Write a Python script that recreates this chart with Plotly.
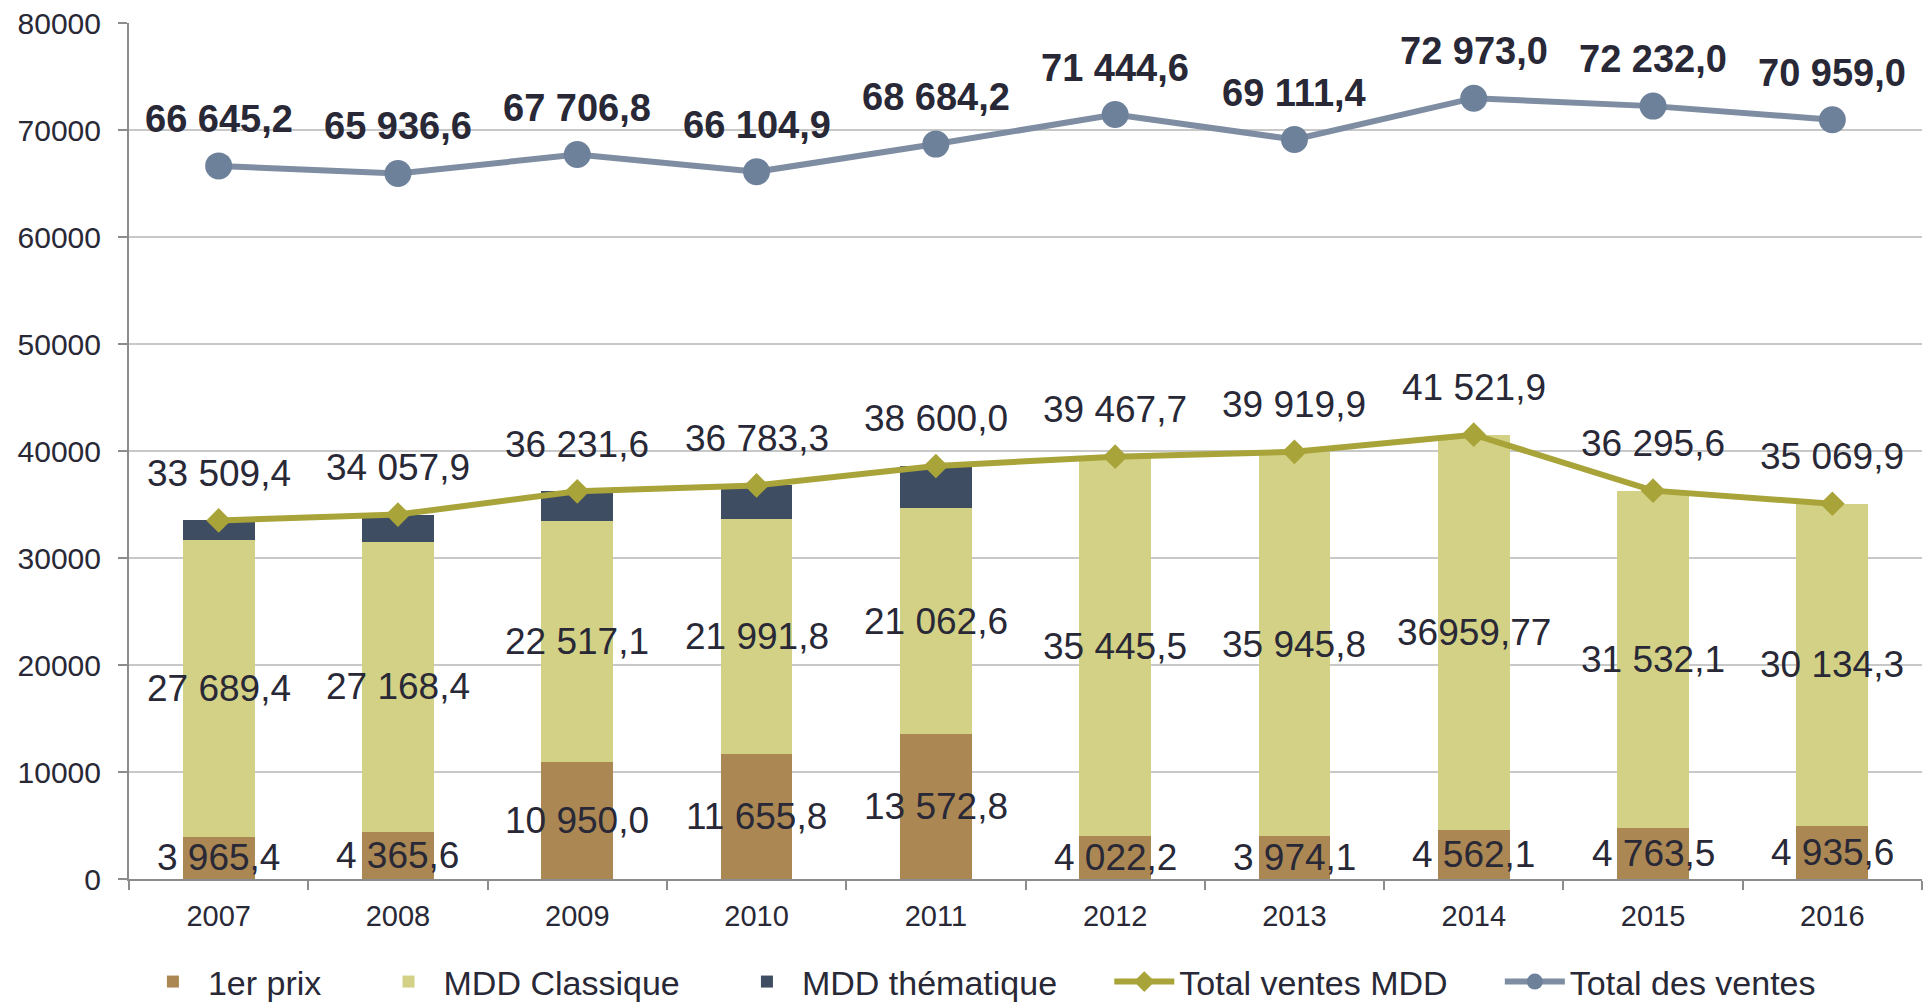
import plotly.graph_objects as go

years = ["2007", "2008", "2009", "2010", "2011", "2012", "2013", "2014", "2015", "2016"]
premier_prix = [3965.4, 4365.6, 10950.0, 11655.8, 13572.8, 4022.2, 3974.1, 4562.1, 4763.5, 4935.6]
mdd_classique = [27689.4, 27168.4, 22517.1, 21991.8, 21062.6, 35445.5, 35945.8, 36959.77, 31532.1, 30134.3]
mdd_thematique = [1854.6, 2523.9, 2764.5, 3135.7, 3964.6, 0, 0, 0, 0, 0]
total_mdd = [33509.4, 34057.9, 36231.6, 36783.3, 38600.0, 39467.7, 39919.9, 41521.9, 36295.6, 35069.9]
total_ventes = [66645.2, 65936.6, 67706.8, 66104.9, 68684.2, 71444.6, 69111.4, 72973.0, 72232.0, 70959.0]
classique_label_override = {7: "36959,77"}

xpos = list(range(len(years)))


def fr(v):
    s = f"{v:,.1f}"
    return s.replace(",", " ").replace(".", ",")


PAD = "\u00a0" * 5  # spacing between legend entries

TXT = "#282836"
FONT = "Liberation Sans, Arial, sans-serif"

C_PRIX = "#AB8754"
C_CLASS = "#D3D185"
C_THEM = "#3F4D63"
C_MDD = "#A9A43A"
C_TOT_LINE = "#7E8DA2"
C_TOT_MARK = "#6E819B"

fig = go.Figure()
fig.add_trace(go.Bar(x=xpos, y=premier_prix, name="1er prix" + PAD, marker=dict(color=C_PRIX, line=dict(width=0))))
fig.add_trace(go.Bar(x=xpos, y=mdd_classique, name="MDD Classique" + PAD, marker=dict(color=C_CLASS, line=dict(width=0))))
fig.add_trace(go.Bar(x=xpos, y=mdd_thematique, name="MDD thématique" + PAD, marker=dict(color=C_THEM, line=dict(width=0))))
fig.add_trace(go.Scatter(x=xpos, y=total_mdd, name="Total ventes MDD" + PAD, mode="lines+markers",
                         line=dict(color=C_MDD, width=6),
                         marker=dict(symbol="diamond", size=19, color=C_MDD)))
fig.add_trace(go.Scatter(x=xpos, y=total_ventes, name="Total des ventes", mode="lines+markers",
                         line=dict(color=C_TOT_LINE, width=6),
                         marker=dict(symbol="circle", size=27, color=C_TOT_MARK)))

annotations = []
for i in xpos:
    annotations.append(dict(x=i, y=premier_prix[i] / 2, text=fr(premier_prix[i]), showarrow=False,
                            font=dict(size=37, color=TXT, family=FONT)))
    ctext = classique_label_override.get(i, fr(mdd_classique[i]))
    annotations.append(dict(x=i, y=premier_prix[i] + mdd_classique[i] / 2, text=ctext, showarrow=False,
                            font=dict(size=37, color=TXT, family=FONT)))
    annotations.append(dict(x=i, y=total_mdd[i], text=fr(total_mdd[i]), showarrow=False, yshift=47,
                            font=dict(size=37, color=TXT, family=FONT)))
    annotations.append(dict(x=i, y=total_ventes[i], text="<b>" + fr(total_ventes[i]) + "</b>", showarrow=False,
                            yshift=47, font=dict(size=38, color=TXT, family=FONT)))

fig.update_layout(
    width=1928, height=1002,
    margin=dict(l=129, r=6, t=23, b=123),
    paper_bgcolor="white", plot_bgcolor="white",
    barmode="stack", bargap=0.6,
    font=dict(family=FONT, color=TXT),
    annotations=annotations,
    showlegend=True,
    legend=dict(orientation="h", xref="container", yref="container", x=0.508, xanchor="center",
                y=0.02, yanchor="middle", itemwidth=60,
                font=dict(size=34, color=TXT, family=FONT), traceorder="normal"),
    xaxis=dict(range=[-0.5, len(years) - 0.5], tickmode="array", tickvals=xpos, ticktext=years,
               showline=True, linecolor="#8C8C8C", linewidth=2, ticks="", automargin=False,
               minor=dict(tick0=-0.5, dtick=1, ticks="outside", ticklen=9, tickcolor="#8C8C8C",
                          tickwidth=2, showgrid=False),
               tickfont=dict(size=29, color=TXT, family=FONT), ticklabelstandoff=10,
               showgrid=False, zeroline=False),
    yaxis=dict(range=[0, 80000], dtick=10000, tickformat="d", showline=True, linecolor="#8C8C8C",
               linewidth=2, ticks="outside", ticklen=9, tickcolor="#8C8C8C", tickwidth=2,
               automargin=False,
               tickfont=dict(size=30, color=TXT, family=FONT), ticklabelstandoff=11,
               showgrid=True, gridcolor="#C8C8C8", gridwidth=2, zeroline=False),
)

fig.write_html("out.html", config={"displayModeBar": False},
               post_script="document.body.style.margin='0';document.body.style.overflow='hidden';")
